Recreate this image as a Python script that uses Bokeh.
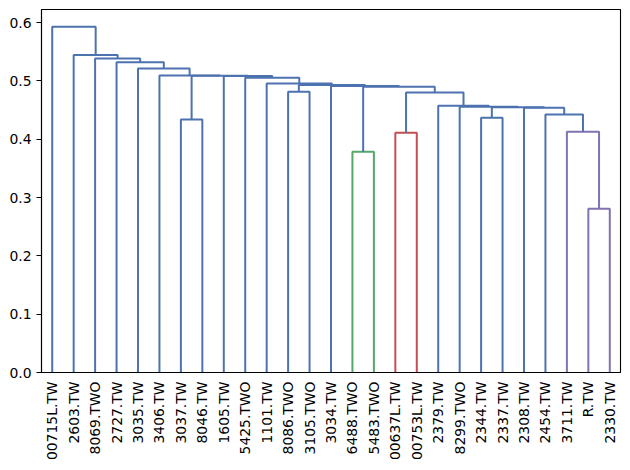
import math
from bokeh.plotting import figure
from bokeh.models import FixedTicker, Range1d, ColumnDataSource, PrintfTickFormatter
from bokeh.embed import file_html
from bokeh.resources import INLINE

# ---- data ----
leaf_labels = ["00715L.TW", "2603.TW", "8069.TWO", "2727.TW", "3035.TW", "3406.TW",
               "3037.TW", "8046.TW", "1605.TW", "5425.TWO", "1101.TW", "8086.TWO",
               "3105.TWO", "3034.TW", "6488.TWO", "5483.TWO", "00637L.TW", "00753L.TW",
               "2379.TW", "8299.TWO", "2344.TW", "2337.TW", "2308.TW", "2454.TW",
               "3711.TW", "R.TW", "2330.TW"]

# linkage: node ids < 27 are leaves, >= 27 are earlier merges
merge_left = [25, 14, 16, 24, 6, 20, 23, 22, 32, 19, 18, 29, 11, 28, 13, 39, 10, 9, 8, 31, 5, 4, 3, 2, 1, 0]
merge_right = [26, 15, 17, 27, 7, 21, 30, 33, 34, 35, 36, 37, 12, 38, 40, 41, 42, 43, 44, 45, 46, 47, 48, 49, 50, 51]
merge_height = [0.2806, 0.3784, 0.4110, 0.4127, 0.4340, 0.4367, 0.4425, 0.4539, 0.4548,
                0.4556, 0.4573, 0.4803, 0.4813, 0.4899, 0.4911, 0.4928, 0.4957, 0.5053,
                0.5085, 0.5090, 0.5094, 0.5214, 0.5322, 0.5386, 0.5443, 0.5928]

above_color = "#4C72B0"
cluster_colors = ["#55A868", "#C44E52", "#8172B2", "#CCB974", "#64B5CD"]

# ---- build dendrogram geometry ----
n = len(leaf_labels)
xpos = {i: 5 + 10 * i for i in range(n)}
ypos = {i: 0.0 for i in range(n)}
parent = {}
for k, (a, b, h) in enumerate(zip(merge_left, merge_right, merge_height)):
    node = n + k
    xpos[node] = (xpos[a] + xpos[b]) / 2.0
    ypos[node] = h
    parent[a] = node
    parent[b] = node

threshold = 0.7 * max(merge_height)
roots = []
for k, h in enumerate(merge_height):
    node = n + k
    if h < threshold:
        p_ = parent.get(node)
        if p_ is None or ypos[p_] >= threshold:
            roots.append(node)
roots.sort(key=lambda r: xpos[r])
root_color = {r: cluster_colors[i % len(cluster_colors)] for i, r in enumerate(roots)}

def color_of(node):
    if ypos[node] >= threshold:
        return above_color
    cur = node
    while cur not in root_color:
        cur = parent[cur]
    return root_color[cur]

xs, ys, cols = [], [], []
for k, (a, b, h) in enumerate(zip(merge_left, merge_right, merge_height)):
    node = n + k
    xs.append([xpos[a], xpos[a], xpos[b], xpos[b]])
    ys.append([ypos[a], h, h, ypos[b]])
    cols.append(color_of(node))

src = ColumnDataSource(dict(xs=xs, ys=ys, color=cols))

ymax = max(merge_height) * 1.05
p = figure(width=630, height=470, output_backend="svg", toolbar_location=None,
           x_range=Range1d(0, 10 * n), y_range=Range1d(0, ymax),
           min_border_left=41, min_border_right=10, min_border_top=9, min_border_bottom=98)
p.multi_line(xs="xs", ys="ys", line_color="color", line_width=2, source=src)

p.xgrid.visible = False
p.ygrid.visible = False
p.outline_line_color = "black"
p.outline_line_width = 1.1
p.outline_line_alpha = 1

font = "DejaVu Sans"
p.xaxis.ticker = FixedTicker(ticks=[xpos[i] for i in range(n)])
p.xaxis.major_label_overrides = {xpos[i]: leaf_labels[i] for i in range(n)}
p.xaxis.major_label_orientation = math.pi / 2
p.xaxis.major_tick_out = 0
p.xaxis.major_tick_in = 0
p.xaxis.minor_tick_out = 0
p.xaxis.minor_tick_in = 0
p.xaxis.major_label_standoff = 9

p.yaxis.ticker = FixedTicker(ticks=[0.0, 0.1, 0.2, 0.3, 0.4, 0.5, 0.6])
p.yaxis.formatter = PrintfTickFormatter(format="%.1f")
p.yaxis.major_tick_out = 5
p.yaxis.major_tick_in = 0
p.yaxis.minor_tick_out = 0
p.yaxis.minor_tick_in = 0
p.yaxis.major_label_standoff = 5

for ax in (p.xaxis, p.yaxis):
    ax.axis_line_color = "black"
    ax.axis_line_width = 1.1
    ax.major_tick_line_color = "black"
    ax.major_tick_line_width = 1.1
    ax.major_label_text_font = font
    ax.major_label_text_font_size = "13.9px"
    ax.major_label_text_color = "black"

open("out.html", "w").write(file_html(p, INLINE))
